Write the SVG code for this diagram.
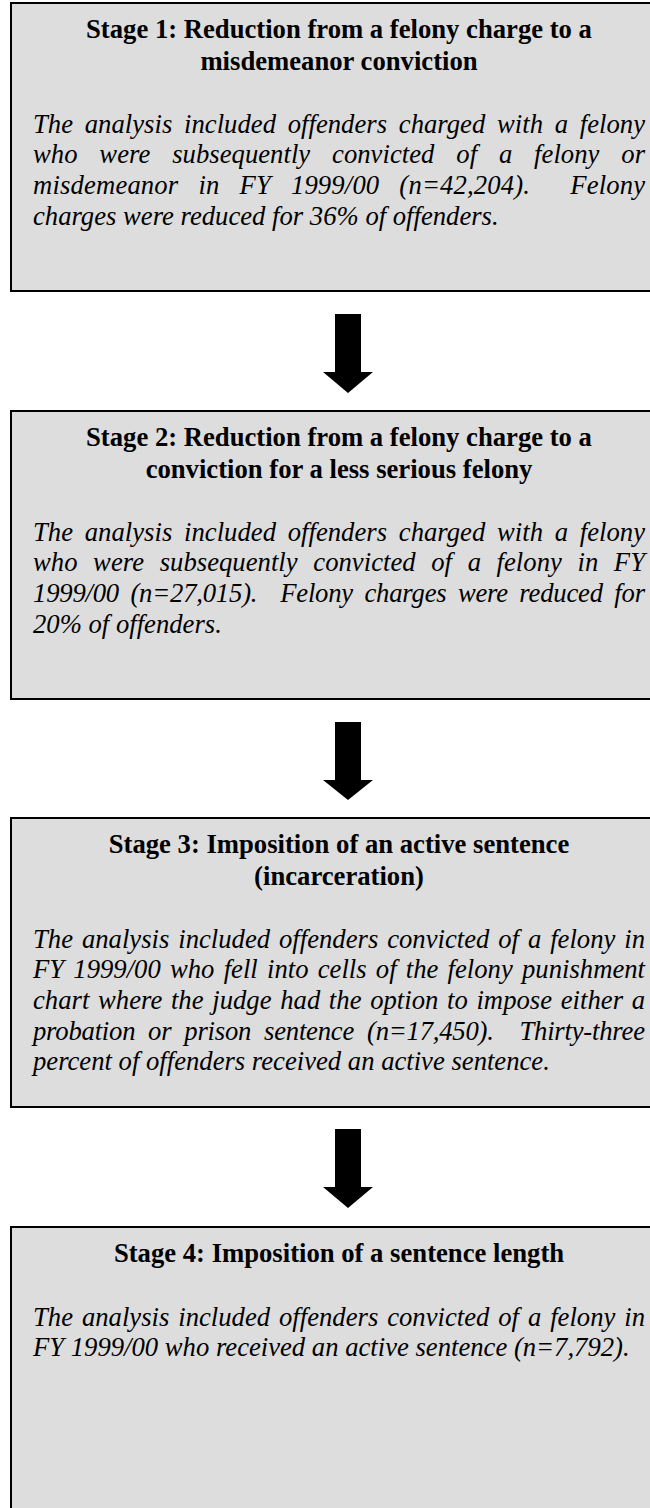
<svg xmlns="http://www.w3.org/2000/svg" width="650" height="1508" viewBox="0 0 650 1508">
<style>
.box{fill:#dddddd;stroke:#000;stroke-width:2}
.t{font-family:"Liberation Serif","Times New Roman",serif;font-size:26.67px;font-weight:bold;text-anchor:middle;fill:#000}
.b{font-family:"Liberation Serif","Times New Roman",serif;font-size:26.67px;font-style:italic;fill:#000;white-space:pre}
.arr{fill:#000}
</style>
<rect width="650" height="1508" fill="#fff"/>
<g id="stage1">
<rect class="box" x="11" y="3" width="660" height="288"/>
<text class="t" x="339" y="38">Stage 1: Reduction from a felony charge to a</text>
<text class="t" x="339" y="70">misdemeanor conviction</text>
<text class="b" x="33" y="132.5" word-spacing="4.99" textLength="612" lengthAdjust="spacing">The analysis included offenders charged with a felony</text>
<text class="b" x="33" y="163.2" word-spacing="15.15" textLength="612" lengthAdjust="spacing">who were subsequently convicted of a felony or</text>
<text class="b" x="33" y="194" word-spacing="13.2" textLength="612" lengthAdjust="spacing">misdemeanor in FY 1999/00 (n=42,204).  Felony</text>
<text class="b" x="33" y="224.7">charges were reduced for 36% of offenders.</text>
</g>
<g id="stage2">
<rect class="box" x="11" y="411" width="660" height="288"/>
<text class="t" x="339" y="446">Stage 2: Reduction from a felony charge to a</text>
<text class="t" x="339" y="478">conviction for a less serious felony</text>
<text class="b" x="33" y="540.5" word-spacing="4.99" textLength="612" lengthAdjust="spacing">The analysis included offenders charged with a felony</text>
<text class="b" x="33" y="571.2" word-spacing="8.9" textLength="612" lengthAdjust="spacing">who were subsequently convicted of a felony in FY</text>
<text class="b" x="33" y="602" word-spacing="4.96" textLength="612" lengthAdjust="spacing">1999/00 (n=27,015).  Felony charges were reduced for</text>
<text class="b" x="33" y="632.7">20% of offenders.</text>
</g>
<g id="stage3">
<rect class="box" x="11" y="818" width="660" height="289"/>
<text class="t" x="339" y="853">Stage 3: Imposition of an active sentence</text>
<text class="t" x="339" y="885">(incarceration)</text>
<text class="b" x="33" y="947.5" word-spacing="2.23" textLength="612" lengthAdjust="spacing">The analysis included offenders convicted of a felony in</text>
<text class="b" x="33" y="978.2" word-spacing="2.55" textLength="612" lengthAdjust="spacing">FY 1999/00 who fell into cells of the felony punishment</text>
<text class="b" x="33" y="1009" word-spacing="1.93" textLength="612" lengthAdjust="spacing">chart where the judge had the option to impose either a</text>
<text class="b" x="33" y="1039.7" word-spacing="6.4" textLength="612" lengthAdjust="spacing">probation or prison sentence (n=17,450).  Thirty-three</text>
<text class="b" x="33" y="1070.4">percent of offenders received an active sentence.</text>
</g>
<g id="stage4">
<rect class="box" x="11" y="1227" width="660" height="300"/>
<text class="t" x="339" y="1262">Stage 4: Imposition of a sentence length</text>
<text class="b" x="33" y="1325.5" word-spacing="2.23" textLength="612" lengthAdjust="spacing">The analysis included offenders convicted of a felony in</text>
<text class="b" x="33" y="1356.2">FY 1999/00 who received an active sentence (n=7,792).</text>
</g>
<g id="connectors">
<polygon class="arr" points="335,314 361,314 361,372 373,372 348,393 323,372 335,372"/>
<polygon class="arr" points="335,722 361,722 361,780 373,780 348,800 323,780 335,780"/>
<polygon class="arr" points="335,1129 361,1129 361,1187 373,1187 348,1208 323,1187 335,1187"/>
</g>
</svg>
